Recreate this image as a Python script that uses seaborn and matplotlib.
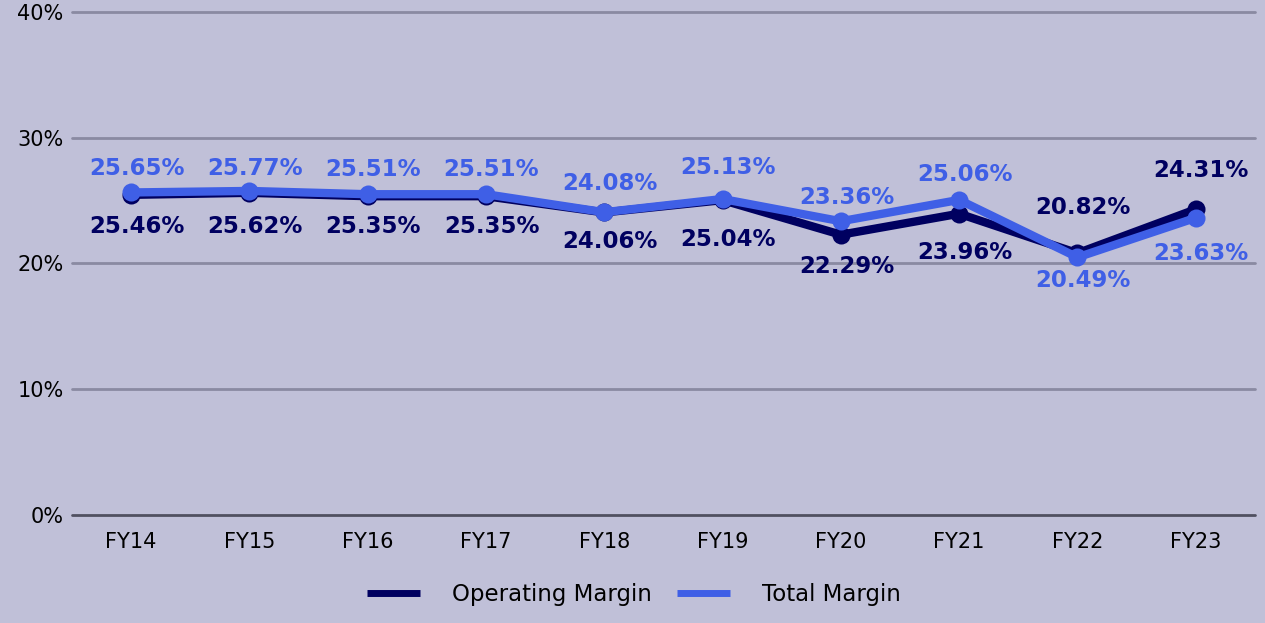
import matplotlib
matplotlib.use("Agg")
import matplotlib.pyplot as plt
import seaborn as sns
import pandas as pd
from matplotlib.lines import Line2D

years = ["FY14", "FY15", "FY16", "FY17", "FY18", "FY19", "FY20", "FY21", "FY22", "FY23"]
operating_margin = [25.46, 25.62, 25.35, 25.35, 24.06, 25.04, 22.29, 23.96, 20.82, 24.31]
total_margin = [25.65, 25.77, 25.51, 25.51, 24.08, 25.13, 23.36, 25.06, 20.49, 23.63]
y_ticks = [0, 10, 20, 30, 40]

# label vertical offsets in points (style)
op_offsets = [-23, -24, -22, -22, -21, -28, -23, -28, 33, 28]
tot_offsets = [17, 16, 18, 18, 21, 23, 17, 18, -17, -26]

BG = "#c0c0d8"
C_OP = "#000060"
C_TOT = "#3f5fe6"

sns.set_theme(style="white")
plt.rcParams["font.family"] = ["DejaVu Sans"]

df = pd.DataFrame({
    "year": years * 2,
    "value": operating_margin + total_margin,
    "series": ["Operating Margin"] * len(years) + ["Total Margin"] * len(years),
})

fig = plt.figure(figsize=(12.65, 6.23), dpi=100)
fig.patch.set_facecolor(BG)
ax = fig.add_axes([0.0569, 0.1734, 0.9351, 0.8073])
ax.set_facecolor(BG)

sns.lineplot(data=df, x="year", y="value", hue="series",
             palette={"Operating Margin": C_OP, "Total Margin": C_TOT},
             linewidth=6, marker="o", markersize=13, markeredgewidth=0,
             legend=False, ax=ax, sort=False, zorder=3)

ax.set_ylim(0, 40)
ax.set_xlim(-0.5, len(years) - 0.5)
ax.set_yticks(y_ticks)
ax.set_yticklabels([f"{t}%" for t in y_ticks])
ax.set_xlabel("")
ax.set_ylabel("")
for t in y_ticks:
    ax.axhline(t, color="#505060" if t == 0 else "#8a8aa2", linewidth=2, zorder=1, clip_on=False)
for s in ax.spines.values():
    s.set_visible(False)
ax.tick_params(axis="both", length=0, labelsize=15, colors="#000000")
ax.tick_params(axis="x", pad=12)
ax.tick_params(axis="y", pad=6)

for i, (o, t) in enumerate(zip(operating_margin, total_margin)):
    ax.annotate(f"{o:.2f}%", (i, o), xytext=(4, op_offsets[i]),
                textcoords="offset points", ha="center", va="center",
                fontsize=16.5, fontweight="bold", color=C_OP, zorder=5)
    ax.annotate(f"{t:.2f}%", (i, t), xytext=(4, tot_offsets[i]),
                textcoords="offset points", ha="center", va="center",
                fontsize=16.5, fontweight="bold", color=C_TOT, zorder=5)

handles = [Line2D([0], [0], color=C_OP, linewidth=5, solid_capstyle="butt"),
           Line2D([0], [0], color=C_TOT, linewidth=5, solid_capstyle="butt")]
leg = fig.legend(handles, ["Operating Margin", "Total Margin"], loc="center",
                 bbox_to_anchor=(0.501, 0.045), ncol=2, frameon=False, fontsize=16.5,
                 handlelength=2.3, handletextpad=1.4, columnspacing=1.1)
for txt in leg.get_texts():
    txt.set_color("#000000")

fig.savefig("out.png", dpi=100, facecolor=BG)
